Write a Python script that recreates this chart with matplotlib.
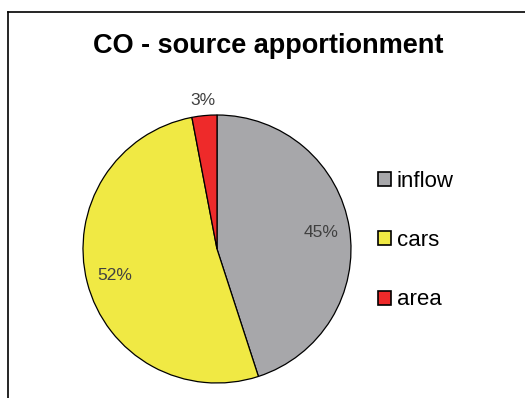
import numpy as np
import matplotlib.pyplot as plt
from matplotlib.lines import Line2D

plt.rcParams['font.family'] = ['Liberation Sans', 'DejaVu Sans']

labels = ['inflow', 'cars', 'area']
shares = [45, 52, 3]
colors = ['#a7a7aa', '#f0e944', '#ee2a2a']

fig = plt.figure(figsize=(5.25, 3.98), dpi=100)

# chart frame (only top and left edges are visible in the crop)
fig.add_artist(Line2D([8 / 525, 8 / 525], [0, 1 - 12 / 398], color='black', lw=1.2))
fig.add_artist(Line2D([8 / 525, 1], [1 - 12 / 398, 1 - 12 / 398], color='black', lw=1.2))

fig.text(268 / 525, 1 - 46 / 398, 'CO - source apportionment', ha='center', va='center',
         fontsize=19.5, fontweight='bold')

ax = fig.add_axes([83 / 525, 15 / 398, 268 / 525, 268 / 398])
wedges, texts, autotexts = ax.pie(shares, colors=colors, startangle=90, counterclock=False,
                                  autopct='%1.0f%%', pctdistance=0.79,
                                  wedgeprops=dict(edgecolor='black', linewidth=0.9),
                                  textprops=dict(color='#404040', fontsize=12.5))
for w, t, v in zip(wedges, autotexts, shares):
    if v < 5:
        ang = np.deg2rad((w.theta1 + w.theta2) / 2)
        t.set_position((1.11 * np.cos(ang), 1.11 * np.sin(ang)))
ax.set_xlim(-1, 1)
ax.set_ylim(-1, 1)

leg = fig.legend(wedges, labels, loc='upper left', bbox_to_anchor=(378 / 525, 1 - 171 / 398),
                 frameon=False, fontsize=16, handlelength=0.6, handleheight=0.6,
                 handletextpad=0.25, labelspacing=1.72, borderpad=0, borderaxespad=0)
for h in leg.legend_handles:
    h.set_linewidth(1.2)

fig.savefig('out.png', dpi=100)
